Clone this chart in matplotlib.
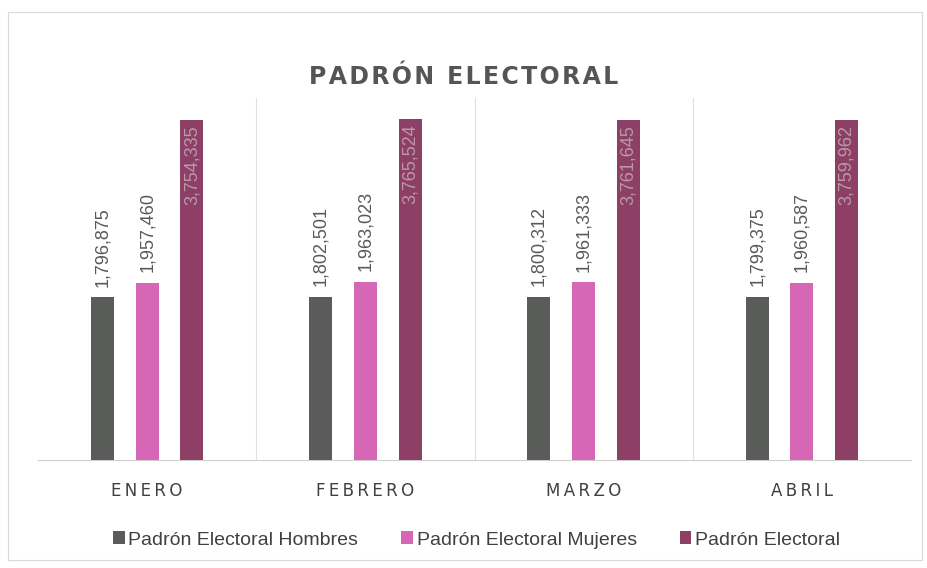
import matplotlib.pyplot as plt
import numpy as np

# datos del padron electoral
meses = ['ENERO', 'FEBRERO', 'MARZO', 'ABRIL']
hombres = [1796875, 1802501, 1800312, 1799375]
mujeres = [1957460, 1963023, 1961333, 1960587]
total = [3754335, 3765524, 3761645, 3759962]
series = ['Padrón Electoral Hombres', 'Padrón Electoral Mujeres', 'Padrón Electoral']
colores = ['#5a5c5a', '#d666b6', '#8e3f66']

plt.rcParams['font.family'] = ['Liberation Sans', 'DejaVu Sans']

fig = plt.figure(figsize=(9.27, 5.68), dpi=100)
ax = fig.add_axes([38/927, 1 - 460/568, 873/927, 362/568])

x = np.arange(len(meses))
w = 0.105
off = 0.205
valores = [hombres, mujeres, total]
for i, vals in enumerate(valores):
    bars = ax.bar(x + (i - 1) * off, vals, width=w, color=colores[i], label=series[i], zorder=3)
    for b, v in zip(bars, vals):
        if i < 2:
            ax.text(b.get_x() + b.get_width() / 2, v + 120000, f'{v:,}', rotation=90,
                    ha='center', va='bottom', fontsize=13, color='#595959')
        else:
            ax.text(b.get_x() + b.get_width() / 2, v - 60000, f'{v:,}', rotation=90,
                    ha='center', va='top', fontsize=13, color='#b89aa8')

ax.set_xlim(-0.5, 3.5)
ax.set_ylim(0, 4000000)
ax.set_yticks([])
ax.set_xticks(x)
ax.set_xticklabels(['\u2009'.join(m) for m in meses], fontsize=12, color='#404040',
                   family=['DejaVu Sans'])
ax.tick_params(axis='x', length=0, pad=16)
for xs in [0.5, 1.5, 2.5]:
    ax.axvline(xs, color='#e0e0e0', lw=0.8, zorder=1)
for s in ['top', 'left', 'right']:
    ax.spines[s].set_visible(False)
ax.spines['bottom'].set_color('#cfcfcf')

fig.text(0.5, 1 - 77/568, '\u200a'.join('PADRÓN ELECTORAL'), ha='center', va='center',
         fontsize=17, fontweight='bold', color='#555555', family=['DejaVu Sans'])

leg = fig.legend(loc='center', bbox_to_anchor=(0.514, 1 - 540/568), ncol=3, frameon=False,
                 fontsize=14, handlelength=0.6, handleheight=0.6, handletextpad=0.2,
                 columnspacing=2.2)
for t in leg.get_texts():
    t.set_color('#404040')

# marco exterior
fig.add_artist(plt.Rectangle((8/927, 8/568), 914/927, 548/568, transform=fig.transFigure,
                             fill=False, edgecolor='#d9d9d9', lw=0.8))

fig.savefig('out.png', dpi=100)
